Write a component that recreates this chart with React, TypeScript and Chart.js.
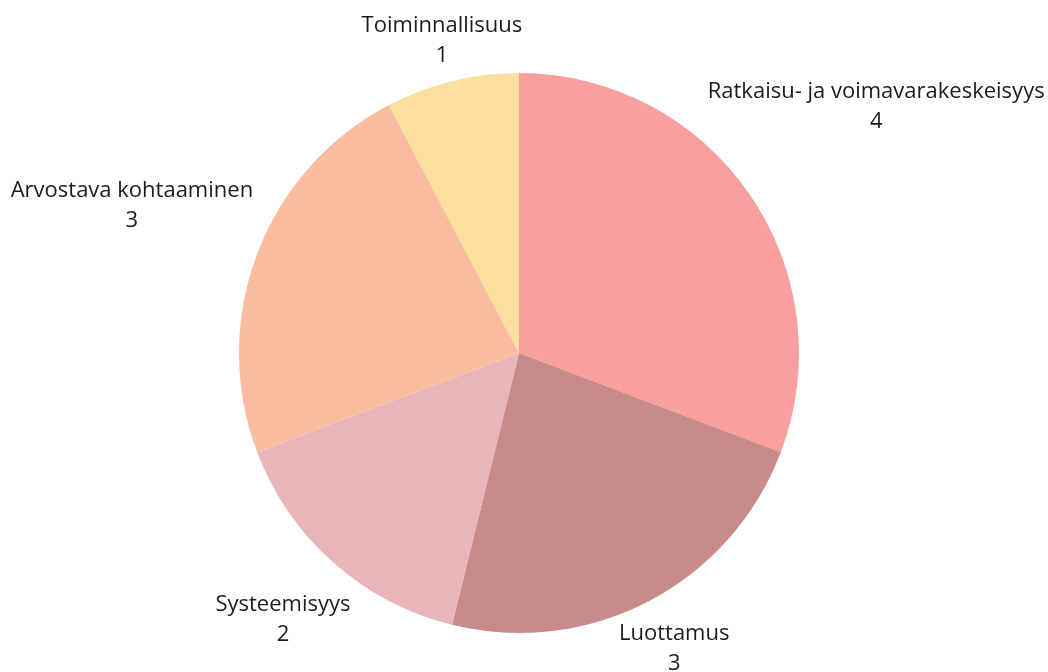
import React, { useEffect, useRef } from "react";
import { Chart, registerables } from "chart.js";

Chart.register(...registerables);

const categories = [
  "Ratkaisu- ja voimavarakeskeisyys",
  "Luottamus",
  "Systeemisyys",
  "Arvostava kohtaaminen",
  "Toiminnallisuus",
];
const values = [4, 3, 2, 3, 1];
const colors = ["#FA9E9E", "#C98A8A", "#E8B6B8", "#FABD9F", "#FBDF9E"];
// distance of each label centre from the pie centre (style)
const labelDistance = [434, 334, 356, 414, 322];

const labelPlugin = {
  id: "outerLabels",
  afterDraw(chart: any) {
    const ctx = chart.ctx;
    const meta = chart.getDatasetMeta(0);
    ctx.save();
    ctx.font = '22px "Open Sans"';
    ctx.fillStyle = "#1c1c1c";
    ctx.textAlign = "center";
    ctx.textBaseline = "middle";
    meta.data.forEach((arc: any, i: number) => {
      const { x, y, startAngle, endAngle } = arc.getProps(
        ["x", "y", "startAngle", "endAngle"],
        true
      );
      const mid = (startAngle + endAngle) / 2;
      const d = labelDistance[i];
      const lx = x + Math.cos(mid) * d;
      const ly = y + Math.sin(mid) * d;
      ctx.fillText(categories[i], lx, ly - 15);
      ctx.fillText(String(values[i]), lx, ly + 15);
    });
    ctx.restore();
  },
};

export default function App() {
  const ref = useRef<HTMLCanvasElement | null>(null);
  useEffect(() => {
    document.body.style.margin = "0";
    const chart = new Chart(ref.current as HTMLCanvasElement, {
      type: "pie",
      data: {
        labels: categories,
        datasets: [
          {
            data: values,
            backgroundColor: colors,
            borderWidth: 0,
          },
        ],
      },
      options: {
        responsive: false,
        animation: false,
        layout: { padding: { top: 73, bottom: 39, left: 239, right: 249 } },
        plugins: {
          legend: { display: false },
          tooltip: { enabled: false },
        },
      },
      plugins: [labelPlugin],
    });
    return () => chart.destroy();
  }, []);
  return (
    <div style={{ position: "absolute", left: 0, top: 0, width: 1048, height: 672, background: "#fff" }}>
      <canvas ref={ref} width={1048} height={672} />
    </div>
  );
}
